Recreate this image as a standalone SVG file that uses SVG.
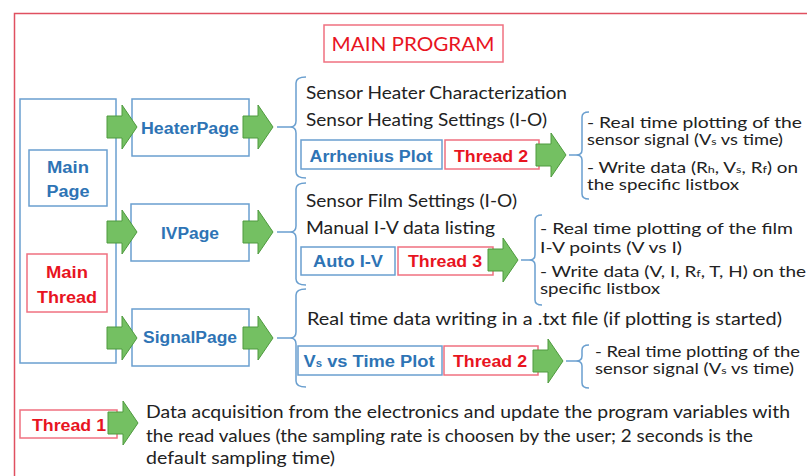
<svg xmlns="http://www.w3.org/2000/svg" xmlns:xlink="http://www.w3.org/1999/xlink" width="807" height="476" viewBox="0 0 807 476">
<defs>
<style>
text{font-family:Lato,"Open Sans","Liberation Sans",sans-serif}
.t{font-size:17.5px;fill:#222}
.r{font-size:15px;fill:#222}
.b{font-family:"Liberation Sans",Arial,sans-serif;font-size:16px;font-weight:bold;fill:#2E74B5;text-anchor:middle}
.rd{font-family:"Liberation Sans",Arial,sans-serif;font-size:16px;font-weight:bold;fill:#E8141F;text-anchor:middle}
.bb{fill:#fff;stroke:#6A9FCF;stroke-width:1.5}
.rb{fill:#fff;stroke:#F07080;stroke-width:1.5}
.br{fill:none;stroke:#6A9FCF;stroke-width:1.5}
.ar{fill:#74C062;stroke:#4E9A3E;stroke-width:1}
.sub{font-size:10px}
</style>
<path id="arr" d="M-30,-11 H-15 V-22 L0,0 L-15,22 V11 H-30 Z"/>
</defs>
<rect width="807" height="476" fill="#fff"/>
<rect x="14.5" y="13.5" width="800" height="470" fill="none" stroke="#E05060" stroke-width="1.5"/>

<g id="title">
<rect x="324" y="25" width="179" height="37" class="rb"/>
<text x="413" y="51" font-size="20" fill="#E8141F" text-anchor="middle" textLength="163" lengthAdjust="spacingAndGlyphs">MAIN PROGRAM</text>
</g>

<g id="main">
<rect x="20" y="99" width="96" height="264" class="bb"/>
</g>
<g id="mainpage">
<rect x="29" y="150" width="78" height="56" class="bb"/>
<text x="68" y="173" class="b" textLength="42" lengthAdjust="spacingAndGlyphs">Main</text>
<text x="68" y="197" class="b" textLength="43" lengthAdjust="spacingAndGlyphs">Page</text>
</g>
<g id="mainthread">
<rect x="27" y="254" width="80" height="58" class="rb"/>
<text x="67" y="278" class="rd" textLength="42" lengthAdjust="spacingAndGlyphs">Main</text>
<text x="67" y="303" class="rd" textLength="60" lengthAdjust="spacingAndGlyphs">Thread</text>
</g>

<g id="heaterpage">
<rect x="132" y="99" width="117" height="57" class="bb"/>
<text x="190" y="134" class="b" textLength="98" lengthAdjust="spacingAndGlyphs">HeaterPage</text>
</g>
<g id="ivpage">
<rect x="131" y="204" width="118" height="57" class="bb"/>
<text x="190" y="239" class="b" textLength="58" lengthAdjust="spacingAndGlyphs">IVPage</text>
</g>
<g id="signalpage">
<rect x="132" y="309" width="117" height="57" class="bb"/>
<text x="190" y="343" class="b" textLength="94" lengthAdjust="spacingAndGlyphs">SignalPage</text>
</g>

<g id="heater-items">
<text x="306" y="99" class="t" textLength="261" lengthAdjust="spacingAndGlyphs">Sensor Heater Characterization</text>
<text x="306" y="126" class="t" textLength="241" lengthAdjust="spacingAndGlyphs">Sensor Heating Settings (I-O)</text>
</g>
<g id="arrhenius">
<rect x="301" y="140" width="141" height="29" class="bb"/>
<text x="371" y="162" class="b" textLength="123" lengthAdjust="spacingAndGlyphs">Arrhenius Plot</text>
</g>
<g id="thread2a">
<rect x="445" y="140" width="94" height="29" class="rb"/>
<text x="491" y="162" class="rd" textLength="74" lengthAdjust="spacingAndGlyphs">Thread 2</text>
</g>
<g id="out1">
<text x="587" y="128" class="r" textLength="215" lengthAdjust="spacingAndGlyphs">- Real time plotting of the</text>
<text x="587" y="145" class="r" textLength="196" lengthAdjust="spacingAndGlyphs">sensor signal (V<tspan class="sub">s</tspan> vs time)</text>
<text x="587" y="173" class="r" textLength="211" lengthAdjust="spacingAndGlyphs">- Write data (R<tspan class="sub">h</tspan>, V<tspan class="sub">s</tspan>, R<tspan class="sub">f</tspan>) on</text>
<text x="587" y="190" class="r" textLength="152" lengthAdjust="spacingAndGlyphs">the specific listbox</text>
</g>

<g id="iv-items">
<text x="306" y="207" class="t" textLength="211" lengthAdjust="spacingAndGlyphs">Sensor Film Settings (I-O)</text>
<text x="306" y="234" class="t" textLength="189" lengthAdjust="spacingAndGlyphs">Manual I-V data listing</text>
</g>
<g id="autoiv">
<rect x="301" y="247" width="94" height="28" class="bb"/>
<text x="348" y="267" class="b" textLength="70" lengthAdjust="spacingAndGlyphs">Auto I-V</text>
</g>
<g id="thread3">
<rect x="398" y="247" width="95" height="28" class="rb"/>
<text x="445" y="267" class="rd" textLength="74" lengthAdjust="spacingAndGlyphs">Thread 3</text>
</g>
<g id="out2">
<text x="540" y="234" class="r" textLength="253" lengthAdjust="spacingAndGlyphs">- Real time plotting of the film</text>
<text x="540" y="253" class="r" textLength="142" lengthAdjust="spacingAndGlyphs">I-V points (V vs I)</text>
<text x="540" y="277" class="r" textLength="266" lengthAdjust="spacingAndGlyphs">- Write data (V, I, R<tspan class="sub">f</tspan>, T, H) on the</text>
<text x="540" y="294" class="r" textLength="120" lengthAdjust="spacingAndGlyphs">specific listbox</text>
</g>

<g id="signal-items">
<text x="307" y="325" class="t" textLength="475" lengthAdjust="spacingAndGlyphs">Real time data writing in a .txt file (if plotting is started)</text>
</g>
<g id="vsplot">
<rect x="298" y="346" width="144" height="29" class="bb"/>
<text x="369" y="367" class="b" textLength="131" lengthAdjust="spacingAndGlyphs">V<tspan class="sub">s</tspan> vs Time Plot</text>
</g>
<g id="thread2b">
<rect x="444" y="346" width="94" height="29" class="rb"/>
<text x="490" y="367" class="rd" textLength="74" lengthAdjust="spacingAndGlyphs">Thread 2</text>
</g>
<g id="out3">
<text x="595" y="357" class="r" textLength="205" lengthAdjust="spacingAndGlyphs">- Real time plotting of the</text>
<text x="595" y="374" class="r" textLength="199" lengthAdjust="spacingAndGlyphs">sensor signal (V<tspan class="sub">s</tspan> vs time)</text>
</g>

<g id="thread1">
<rect x="20" y="410" width="97" height="28" class="rb"/>
<text x="69" y="431" class="rd" textLength="74" lengthAdjust="spacingAndGlyphs">Thread 1</text>
</g>
<g id="acq">
<text x="146" y="418" class="t" textLength="644" lengthAdjust="spacingAndGlyphs">Data acquisition from the electronics and update the program variables with</text>
<text x="146" y="442" class="t" textLength="607" lengthAdjust="spacingAndGlyphs">the read values (the sampling rate is choosen by the user; 2 seconds is the</text>
<text x="146" y="464" class="t" textLength="189" lengthAdjust="spacingAndGlyphs">default sampling time)</text>
</g>

<g id="connectors">
<g class="ar">
<use xlink:href="#arr" x="137" y="127"/>
<use xlink:href="#arr" x="137" y="232"/>
<use xlink:href="#arr" x="137" y="338"/>
<use xlink:href="#arr" x="273" y="127"/>
<use xlink:href="#arr" x="273" y="232"/>
<use xlink:href="#arr" x="273" y="338"/>
<use xlink:href="#arr" x="566" y="155"/>
<use xlink:href="#arr" x="518" y="260"/>
<use xlink:href="#arr" x="563" y="361"/>
<use xlink:href="#arr" x="138" y="423"/>
</g>
<g class="br">
<path d="M277,127 H290 M306,77 Q296,77 296,83 V121 Q296,127 290,127 Q296,127 296,133 V172 Q296,178 306,178"/>
<path d="M277,232 H290 M306,183 Q296,183 296,189 V226 Q296,232 290,232 Q296,232 296,238 V279 Q296,285 306,285"/>
<path d="M277,338 H290 M306,289 Q296,289 296,295 V332 Q296,338 290,338 Q296,338 296,344 V381 Q296,387 306,387"/>
<path d="M569,155 H576 M589,112 Q582,112 582,117 V150 Q582,155 576,155 Q582,155 582,160 V194 Q582,199 589,199"/>
<path d="M521,260 H529 M542,215 Q535,215 535,220 V255 Q535,260 529,260 Q535,260 535,265 V300 Q535,305 542,305"/>
<path d="M566,361 H576 M589,345 Q582,345 582,350 V356 Q582,361 576,361 Q582,361 582,366 V383 Q582,388 589,388"/>
</g>
</g>
</svg>
